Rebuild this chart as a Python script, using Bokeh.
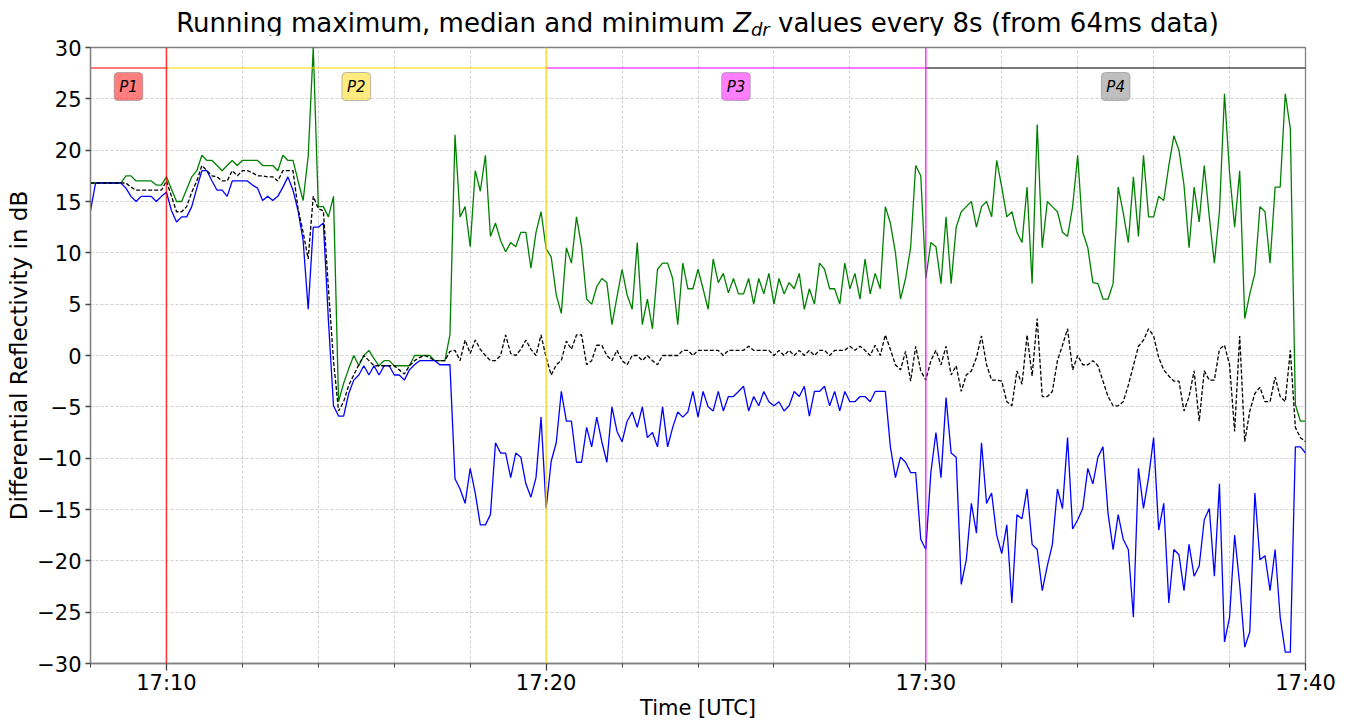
import numpy as np
from bokeh.plotting import figure
from bokeh.layouts import column
from bokeh.models import (FixedTicker, DatetimeTickFormatter, CustomJSTickFormatter,
                          Span, Label, Range1d, ColumnDataSource, Div)
from bokeh.embed import file_html
from bokeh.resources import INLINE

# ---------------- data ----------------
DAY = "2021-06-01"          # date is not shown on the chart
START_TIME = "17:08:00"
END_TIME = "17:40:00"
STEP_SECONDS = 8

zdr_max = [
    16.8, 16.8, 16.8, 16.8, 16.8, 16.8, 16.8, 17.5, 17.5, 17.0,
    17.0, 17.0, 17.0, 16.6, 16.6, 17.4, 16.2, 15.0, 15.0, 16.2,
    17.4, 18.0, 19.5, 19.0, 19.0, 18.5, 18.0, 18.5, 19.0, 18.5,
    19.0, 19.0, 19.0, 19.0, 18.5, 18.5, 18.5, 18.0, 19.5, 19.0,
    19.0, 17.0, 15.1, 19.4, 30.0, 14.5, 14.5, 13.5, 15.5, -4.5,
    -2.7, -1.3, 0.0, -1.0, 0.0, 0.5, -0.3, -1.0, -0.5, -0.5,
    -1.0, -1.0, -1.0, -1.0, 0.0, 0.0, 0.0, 0.0, -0.5, -0.5,
    -0.5, 2.0, 21.5, 13.5, 14.5, 10.6, 18.0, 16.0, 19.5, 11.6,
    12.9, 11.2, 10.1, 11.0, 10.6, 12.0, 12.0, 8.5, 12.0, 14.0,
    10.4, 9.6, 5.9, 4.1, 10.5, 9.0, 13.5, 10.6, 5.5, 5.0,
    6.7, 7.5, 7.1, 3.0, 5.7, 8.4, 5.9, 4.5, 11.0, 3.0,
    5.5, 2.6, 8.4, 9.0, 9.0, 7.5, 3.0, 9.0, 6.5, 6.5,
    8.4, 6.5, 4.5, 9.4, 7.1, 8.0, 6.1, 7.5, 6.0, 6.0,
    7.5, 5.0, 7.5, 6.0, 8.0, 5.0, 7.5, 6.0, 7.1, 6.5,
    8.0, 4.5, 6.5, 5.0, 9.0, 8.4, 6.5, 6.5, 5.0, 9.0,
    6.5, 8.0, 5.5, 9.4, 6.0, 8.0, 6.5, 14.5, 12.9, 10.0,
    5.5, 7.5, 10.5, 18.5, 17.5, 7.5, 11.0, 10.6, 7.0, 13.5,
    7.0, 12.5, 14.0, 14.5, 15.0, 12.5, 14.5, 15.0, 13.5, 19.0,
    16.4, 13.5, 14.0, 12.0, 11.0, 16.4, 7.0, 22.5, 10.5, 15.0,
    14.5, 14.0, 12.0, 11.6, 14.5, 19.5, 12.0, 10.5, 7.1, 7.0,
    5.5, 5.5, 7.0, 16.4, 13.9, 11.0, 17.4, 11.6, 19.5, 13.5,
    13.5, 15.5, 15.1, 18.5, 21.4, 20.0, 16.6, 10.5, 16.4, 13.0,
    18.5, 13.5, 9.0, 14.0, 25.5, 17.8, 12.5, 18.0, 3.6, 6.0,
    8.0, 14.5, 14.0, 9.0, 16.4, 16.4, 25.5, 22.1, -4.8, -6.4,
    -6.4,
]

zdr_median = [
    16.8, 16.8, 16.8, 16.8, 16.8, 16.8, 16.8, 16.8, 16.4, 16.1,
    16.1, 16.1, 16.1, 16.1, 16.1, 17.0, 15.5, 14.0, 14.0, 14.5,
    15.9, 17.0, 18.5, 18.0, 17.5, 17.4, 17.0, 17.0, 18.0, 17.5,
    18.0, 18.0, 17.8, 17.5, 17.5, 17.4, 17.4, 17.0, 18.0, 18.0,
    18.0, 14.3, 12.0, 9.4, 15.5, 14.3, 14.1, 6.5, -0.5, -5.4,
    -4.5, -2.9, -1.9, -0.9, 0.0, -0.5, -1.0, -1.0, -1.0, -1.0,
    -1.0, -1.4, -1.8, -1.0, -0.5, -0.2, 0.0, -0.2, -0.5, -0.5,
    -0.5, 0.4, 0.5, -0.5, 1.5, 0.2, 1.5, 0.6, 0.0, -0.5,
    -0.5, 0.0, 2.0, 0.2, 0.0, 0.6, 1.5, 0.6, 0.0, 2.0,
    -0.2, -1.9, -0.9, -0.5, 1.4, 0.6, 2.0, 2.0, -0.9, -0.5,
    1.0, 1.0, 0.0, -0.5, 0.5, -0.5, -0.9, 0.0, 0.0, -0.5,
    0.0, -0.5, -0.9, 0.0, 0.0, 0.0, 0.0, 0.5, 0.5, 0.0,
    0.5, 0.5, 0.5, 0.5, 0.5, 0.0, 0.5, 0.5, 0.5, 0.5,
    0.9, 0.5, 0.5, 0.5, 0.5, 0.0, 0.5, 0.0, 0.5, 0.0,
    0.5, 0.0, 0.5, 0.0, 0.5, 0.5, 0.0, 0.5, 0.5, 0.5,
    0.9, 0.5, 0.9, 0.5, 0.0, 1.0, 0.0, 2.0, 0.6, -0.9,
    -1.4, 0.4, -2.5, 0.9, -1.5, -2.4, -0.5, 0.5, -0.9, 0.9,
    -1.9, -1.0, -3.5, -1.9, -1.5, -0.2, 1.9, -0.9, -2.4, -2.4,
    -2.5, -4.5, -4.9, -1.5, -2.8, 2.0, -2.0, 3.6, -4.0, -4.0,
    -3.5, -0.5, 1.0, 2.6, -1.4, 0.0, -0.9, -0.9, -0.5, -1.0,
    -2.5, -4.0, -4.9, -4.9, -4.5, -2.9, -1.0, 0.9, 1.5, 2.6,
    1.9, -0.2, -1.4, -2.0, -2.5, -2.5, -5.4, -4.0, -1.5, -6.4,
    -1.5, -2.4, -2.4, 0.6, 1.0, -0.9, -7.4, 1.9, -8.4, -5.4,
    -3.7, -3.1, -4.5, -4.5, -2.1, -4.0, -4.5, 0.5, -7.0, -8.0,
    -8.4,
]

zdr_min = [
    14.1, 16.8, 16.8, 16.8, 16.8, 16.8, 16.8, 16.3, 15.5, 15.0,
    15.5, 15.5, 15.5, 15.0, 15.5, 15.9, 14.1, 13.0, 13.5, 13.5,
    14.5, 16.3, 18.0, 18.0, 17.0, 16.1, 16.1, 15.5, 17.0, 17.0,
    17.0, 17.0, 16.6, 16.3, 15.1, 15.5, 15.1, 15.5, 16.4, 17.4,
    16.1, 14.1, 11.2, 4.5, 12.5, 12.5, 12.9, 3.4, -4.9, -5.9,
    -5.9, -3.7, -2.4, -1.9, -1.0, -1.9, -1.0, -1.9, -1.0, -1.0,
    -1.9, -1.9, -2.4, -1.4, -0.9, -0.5, -0.5, -0.5, -0.5, -0.9,
    -0.9, -0.9, -12.0, -13.0, -14.4, -11.0, -13.4, -16.5, -16.5, -15.5,
    -8.5, -9.5, -9.5, -11.9, -9.5, -9.9, -12.5, -13.8, -11.9, -6.0,
    -14.9, -10.3, -8.5, -3.5, -6.4, -6.4, -10.4, -10.4, -7.0, -8.9,
    -6.0, -8.4, -10.4, -5.0, -7.4, -8.4, -6.4, -5.5, -7.0, -5.0,
    -8.0, -7.5, -8.9, -5.0, -8.9, -7.0, -5.5, -6.0, -5.5, -3.5,
    -6.0, -3.5, -5.0, -5.4, -3.5, -5.4, -4.0, -4.0, -3.5, -3.0,
    -5.4, -4.0, -4.9, -3.5, -4.5, -4.9, -4.5, -5.4, -4.9, -3.5,
    -4.0, -3.0, -5.9, -3.5, -3.5, -3.0, -4.9, -3.5, -5.4, -3.5,
    -4.5, -4.5, -4.0, -4.0, -4.5, -3.5, -3.5, -3.5, -8.9, -11.9,
    -9.9, -10.4, -11.4, -11.4, -17.9, -18.9, -11.4, -7.5, -11.9, -4.1,
    -9.5, -9.9, -22.3, -19.9, -14.4, -17.3, -8.5, -14.4, -13.4, -17.5,
    -19.3, -16.5, -24.1, -15.5, -15.9, -13.0, -18.4, -18.9, -22.9, -20.5,
    -18.4, -13.0, -14.9, -8.0, -16.9, -16.0, -14.9, -11.0, -12.5, -9.9,
    -8.9, -15.4, -18.9, -15.5, -17.9, -18.9, -25.5, -11.0, -14.9, -11.9,
    -8.0, -17.0, -14.4, -24.1, -18.9, -19.4, -22.9, -18.4, -21.5, -20.5,
    -16.0, -14.9, -21.5, -12.5, -27.9, -25.5, -17.5, -22.3, -28.4, -26.9,
    -13.4, -19.9, -19.5, -22.9, -18.9, -25.5, -28.9, -28.9, -8.9, -8.9,
    -9.5,
]

period_names = ["P1", "P2", "P3", "P4"]
period_edges = ["17:08:00", "17:10:00", "17:20:00", "17:30:00", "17:40:00"]
period_line_colors = ["red", "gold", "magenta", "black"]
period_box_colors = ["red", "gold", "magenta", "gray"]
PERIOD_LINE_Y = 28
PERIOD_LABEL_Y = 26.2

x_major_ticks = ["17:10:00", "17:20:00", "17:30:00", "17:40:00"]
x_minor_ticks = ["17:08:00", "17:12:00", "17:14:00", "17:16:00", "17:18:00",
                 "17:22:00", "17:24:00", "17:26:00", "17:28:00",
                 "17:32:00", "17:34:00", "17:36:00", "17:38:00"]
y_ticks = [-30, -25, -20, -15, -10, -5, 0, 5, 10, 15, 20, 25, 30]

title_before = "Running maximum, median and minimum"
title_var = "Z"
title_sub = "dr"
title_after = "values every 8s (from 64ms data)"
x_label = "Time [UTC]"
y_label = "Differential Reflectivity in dB"

# ---------------- helpers ----------------
EPOCH = np.datetime64("1970-01-01T00:00:00")


def to_ms(hms):
    return float((np.datetime64(f"{DAY}T{hms}") - EPOCH) / np.timedelta64(1, "ms"))


t0 = to_ms(START_TIME)
t1 = to_ms(END_TIME)
n = len(zdr_max)
times = t0 + np.arange(n) * STEP_SECONDS * 1000.0

FONT = "DejaVu Sans"

p = figure(width=1350, height=687, x_axis_type="datetime",
           output_backend="svg", toolbar_location=None,
           x_range=Range1d(t0, t1), y_range=Range1d(-30, 30),
           min_border_left=90, min_border_right=45,
           min_border_top=12, min_border_bottom=59)
p.background_fill_color = "white"
p.border_fill_color = "white"
p.outline_line_color = "#808080"
p.outline_line_width = 1.3

# axes
p.xaxis.ticker = FixedTicker(ticks=[to_ms(t) for t in x_major_ticks],
                             minor_ticks=[to_ms(t) for t in x_minor_ticks])
p.xaxis.formatter = DatetimeTickFormatter(
    milliseconds="%H:%M", seconds="%H:%M", minsec="%H:%M", minutes="%H:%M",
    hourmin="%H:%M", hours="%H:%M", days="%H:%M", months="%H:%M", years="%H:%M")
p.yaxis.ticker = FixedTicker(ticks=y_ticks)
p.yaxis.formatter = CustomJSTickFormatter(
    code="return tick < 0 ? '\u2212' + Math.abs(tick) : String(tick);")

p.xaxis.axis_label = x_label
p.yaxis.axis_label = y_label
for ax in (p.xaxis[0], p.yaxis[0]):
    ax.axis_line_color = "#808080"
    ax.axis_line_width = 1.3
    ax.major_tick_line_color = "#444444"
    ax.major_tick_line_width = 1.3
    ax.minor_tick_line_color = "#444444"
    ax.minor_tick_line_width = 1.0
    ax.major_tick_in = 0
    ax.minor_tick_in = 0
    ax.major_label_text_font = FONT
    ax.major_label_text_font_size = "21px"
    ax.major_label_text_color = "black"
    ax.axis_label_text_font = FONT
    ax.axis_label_text_font_style = "normal"
    ax.axis_label_text_color = "black"
p.xaxis.axis_label_text_font_size = "21px"
p.yaxis.axis_label_text_font_size = "23px"
p.xaxis.major_tick_out = 7
p.xaxis.minor_tick_out = 4
p.xaxis.major_label_standoff = 0
p.xaxis.axis_label_standoff = -2
p.yaxis.major_tick_out = 5
p.yaxis.minor_tick_out = 0
p.yaxis.major_label_standoff = 4
p.yaxis.axis_label_standoff = 2

# grid
for g in (p.xgrid[0], p.ygrid[0]):
    g.grid_line_color = "#b0b0b0"
    g.grid_line_alpha = 0.6
    g.grid_line_dash = "3 2"
    g.grid_line_width = 1
p.xgrid.minor_grid_line_color = "#b0b0b0"
p.xgrid.minor_grid_line_alpha = 0.6
p.xgrid.minor_grid_line_dash = "3 2"
p.xgrid.minor_grid_line_width = 1

# data lines
src = ColumnDataSource(dict(t=times, zmax=zdr_max, zmed=zdr_median, zmin=zdr_min))
p.line("t", "zmax", source=src, line_color="green", line_width=1.3)
p.line("t", "zmin", source=src, line_color="blue", line_width=1.3)
p.line("t", "zmed", source=src, line_color="black", line_width=1.3, line_dash="4 2")

# periods
edges_ms = [to_ms(e) for e in period_edges]
p.segment(x0=edges_ms[:-1], x1=edges_ms[1:], y0=[PERIOD_LINE_Y] * 4, y1=[PERIOD_LINE_Y] * 4,
          line_color=period_line_colors, line_alpha=0.7, line_width=1.6)
for e, c in zip(edges_ms[1:4], period_line_colors[:3]):
    p.add_layout(Span(location=e, dimension="height", line_color=c,
                      line_alpha=0.75, line_width=1.6))
for name, a, b, c in zip(period_names, edges_ms[:-1], edges_ms[1:], period_box_colors):
    p.add_layout(Label(x=(a + b) / 2, y=PERIOD_LABEL_Y, text=name,
                       text_font=FONT, text_font_size="15px", text_font_style="italic",
                       text_color="black", text_align="center", text_baseline="middle",
                       background_fill_color=c, background_fill_alpha=0.5,
                       border_line_color="#8c8c8c", border_line_alpha=0.6,
                       border_radius=4, padding=5))

# title as HTML so that Z_dr is italic with a subscript
title_html = (
    '<div style="box-sizing:border-box; width:1350px; padding-left:45px; margin:0; '
    'padding-top:10px; text-align:center; white-space:nowrap; '
    'font-family:\'DejaVu Sans\'; font-size:26px; line-height:26px; color:black;">'
    f'{title_before} <span style="font-style:italic">{title_var}</span>'
    f'<span style="font-style:italic; font-size:18px; position:relative; top:4px">'
    f'{title_sub}</span> {title_after}</div>'
)
title_div = Div(text=title_html, width=1350, height=35, margin=0)

layout = column(title_div, p, spacing=0)

open("out.html", "w", encoding="utf-8").write(file_html(layout, INLINE))
